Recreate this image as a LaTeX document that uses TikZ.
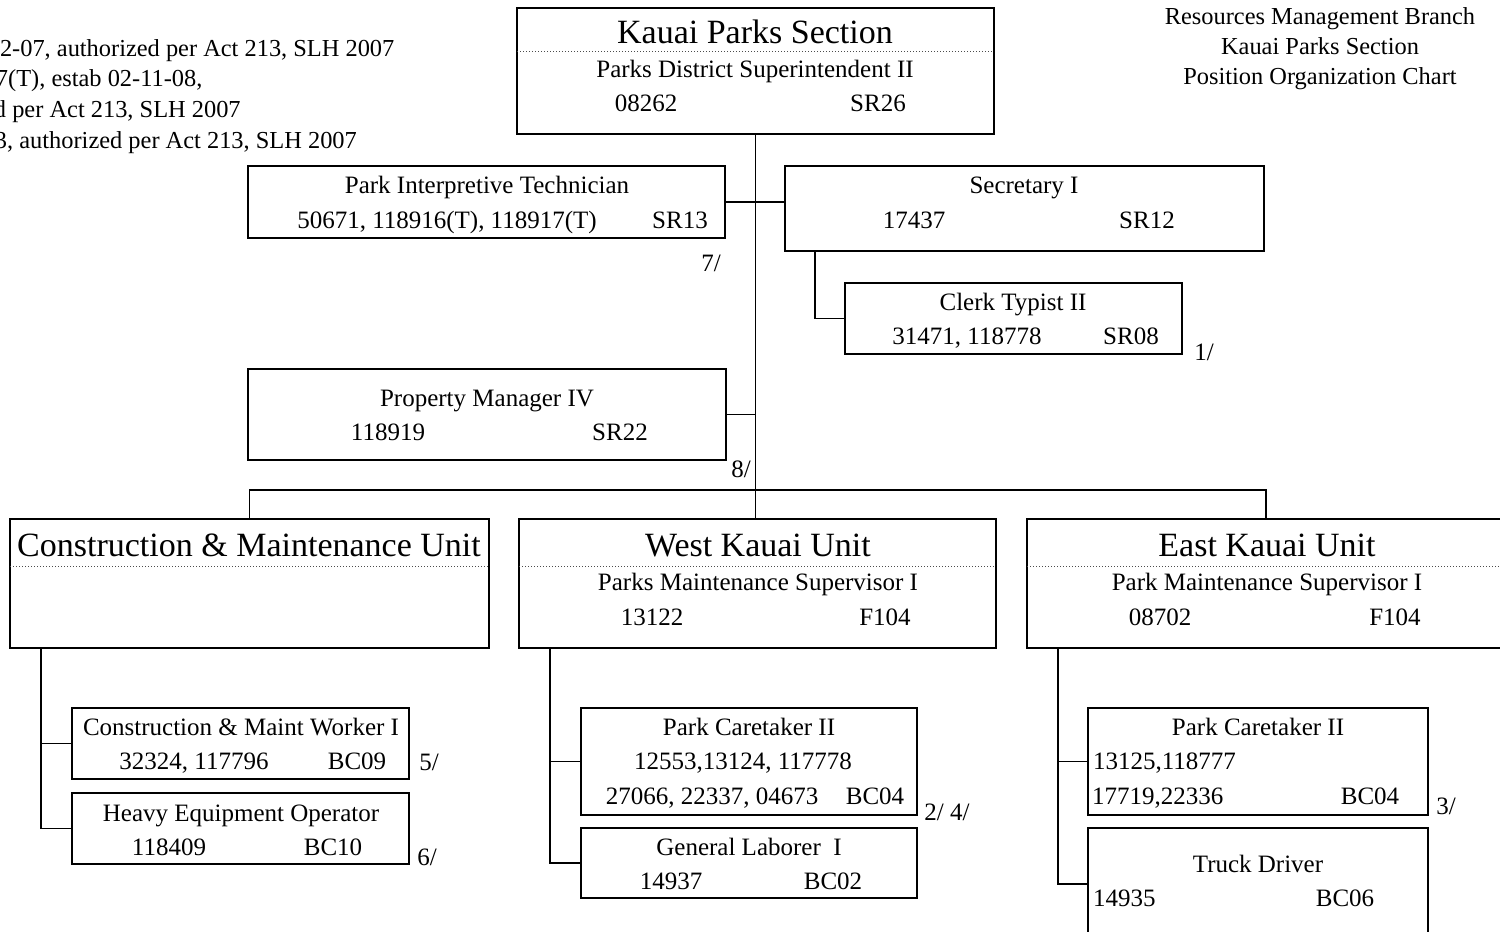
\documentclass[tikz,border=0pt]{standalone}
\usepackage{fontspec}
\setmainfont{Liberation Serif}
\usepackage{tikz}

\begin{document}
\begin{tikzpicture}[x=0.5pt,y=-0.5pt,
  every node/.style={inner sep=0pt, outer sep=0pt, anchor=base, font=\fontsize{12.5}{14}\selectfont},
  posbox/.style={draw, line width=1pt, anchor=center, minimum width=#1},
  unittitle/.style={font=\fontsize{17}{19}\selectfont},
  notetxt/.style={font=\fontsize{12.2}{14}\selectfont},
  sepline/.style={densely dotted, black!70, line width=0.5pt},
  link/.style={line width=0.8pt}]
\useasboundingbox (0,0) rectangle (1500,932);
\clip (0,0) rectangle (1500,932);
\node[notetxt, anchor=base west] (noteA) at (0,56) {2-07, authorized per Act 213, SLH 2007};
\node[notetxt, anchor=base west] (noteB) at (-4,86) {7(T), estab 02-11-08,};
\node[notetxt, anchor=base west] (noteC) at (-6,117) {d per Act 213, SLH 2007};
\node[notetxt, anchor=base west] (noteD) at (-5,148) {3, authorized per Act 213, SLH 2007};
\node[notetxt] (headA) at (1320,24) {Resources Management Branch};
\node[notetxt] (headB) at (1320,54) {Kauai Parks Section};
\node[notetxt] (headC) at (1320,84) {Position Organization Chart};
\node[posbox=238.5pt, minimum height=63pt] (top) at (755.5,71) {};
\node[posbox=238.5pt, minimum height=36pt] (pit) at (486.5,202) {};
\node[posbox=239.5pt, minimum height=42.5pt] (sec) at (1024.5,208.5) {};
\node[posbox=168.5pt, minimum height=35.5pt] (clerk) at (1013.5,318.5) {};
\node[posbox=239pt, minimum height=45.5pt] (prop) at (487,414.5) {};
\node[posbox=239.5pt, minimum height=64.5pt] (cmu) at (249.5,583.5) {};
\node[posbox=238.5pt, minimum height=64.5pt] (west) at (757.5,583.5) {};
\node[posbox=239pt, minimum height=64.5pt] (east) at (1266,583.5) {};
\node[posbox=168.5pt, minimum height=35.5pt] (cmw) at (240.5,743.5) {};
\node[posbox=168.5pt, minimum height=35.5pt] (heo) at (240.5,828.5) {};
\node[posbox=168pt, minimum height=53.5pt] (pcw) at (749,761.5) {};
\node[posbox=168pt, minimum height=35pt] (gl) at (749,863) {};
\node[posbox=170pt, minimum height=53.5pt] (pce) at (1258,761.5) {};
\node[posbox=170pt, minimum height=56pt] (td) at (1258,884) {};
\draw[sepline] (top.west |- 0,51) -- (top.east |- 0,51);
\draw[sepline] (cmu.west |- 0,566) -- (cmu.east |- 0,566);
\draw[sepline] (west.west |- 0,566) -- (west.east |- 0,566);
\draw[sepline] (east.west |- 0,566) -- (east.east |- 0,566);
\node[unittitle] (topttl) at (755,43) {Kauai Parks Section};
\node (toppos) at (755,77) {Parks District Superintendent II};
\node (topnum) at (646,111) {08262};
\node (topsr) at (878,111) {SR26};
\node (pitpos) at (487,193) {Park Interpretive Technician};
\node (pitnum) at (447,228) {50671, 118916(T), 118917(T)};
\node (pitsr) at (680,228) {SR13};
\node (pitnote) at (711,271) {7/};
\node (secpos) at (1024,193) {Secretary I};
\node (secnum) at (914,228) {17437};
\node (secsr) at (1147,228) {SR12};
\node (clerkpos) at (1013,310) {Clerk Typist II};
\node (clerknum) at (967,344) {31471, 118778};
\node (clerksr) at (1131,344) {SR08};
\node (clerknote) at (1204,360) {1/};
\node (proppos) at (487,406) {Property Manager IV};
\node (propnum) at (388,440) {118919};
\node (propsr) at (620,440) {SR22};
\node (propnote) at (741,477) {8/};
\node[unittitle] (cmuttl) at (249,556) {Construction \& Maintenance Unit};
\node[unittitle] (westttl) at (758,556) {West Kauai Unit};
\node (westpos) at (758,590) {Parks Maintenance Supervisor I};
\node (westnum) at (652,625) {13122};
\node (westbc) at (885,625) {F104};
\node[unittitle] (eastttl) at (1267,556) {East Kauai Unit};
\node (eastpos) at (1267,590) {Park Maintenance Supervisor I};
\node (eastnum) at (1160,625) {08702};
\node (eastbc) at (1395,625) {F104};
\node (cmwpos) at (241,735) {Construction \& Maint Worker I};
\node (cmwnum) at (194,769) {32324, 117796};
\node (cmwbc) at (357,769) {BC09};
\node (cmwnote) at (429,770) {5/};
\node (heopos) at (241,821) {Heavy Equipment Operator};
\node (heonum) at (169,855) {118409};
\node (heobc) at (333,855) {BC10};
\node (heonote) at (427,865) {6/};
\node (pcwpos) at (749,735) {Park Caretaker II};
\node (pcwnumA) at (743,769) {12553,13124, 117778};
\node (pcwnumB) at (712,804) {27066, 22337, 04673};
\node (pcwbc) at (875,804) {BC04};
\node (pcwnote) at (947,820) {2/ 4/};
\node (glpos) at (749,855) {General Laborer\ \ I};
\node (glnum) at (671,889) {14937};
\node (glbc) at (833,889) {BC02};
\node (pcepos) at (1258,735) {Park Caretaker II};
\node[anchor=base west] (pcenumA) at (1093,769) {13125,118777};
\node[anchor=base west] (pcenumB) at (1092,804) {17719,22336};
\node (pcebc) at (1370,804) {BC04};
\node (pcenote) at (1446,814) {3/};
\node (tdpos) at (1258,872) {Truck Driver};
\node[anchor=base west] (tdnum) at (1093,906) {14935};
\node (tdbc) at (1345,906) {BC06};
\coordinate (bar) at (755,490);
\coordinate (cmutrunk) at (41,648);
\coordinate (westtrunk) at (550,648);
\coordinate (easttrunk) at (1058,648);
\draw[link] (top.south) -- (top.south |- west.north);
\draw[link] (pit.east) -- (pit.east -| sec.west);
\draw[link] ([xshift=15pt]sec.south west) |- (clerk.west);
\draw[link] (prop.east) -- (prop.east -| top.south);
\draw[link] (cmu.north) |- (bar) -| (east.north);
\draw[link] (cmutrunk) |- (heo.west);
\draw[link] (cmw.west) -- (cmw.west -| cmutrunk);
\draw[link] (westtrunk) |- (gl.west);
\draw[link] (pcw.west) -- (pcw.west -| westtrunk);
\draw[link] (easttrunk) |- (td.west);
\draw[link] (pce.west) -- (pce.west -| easttrunk);
\end{tikzpicture}
\end{document}
